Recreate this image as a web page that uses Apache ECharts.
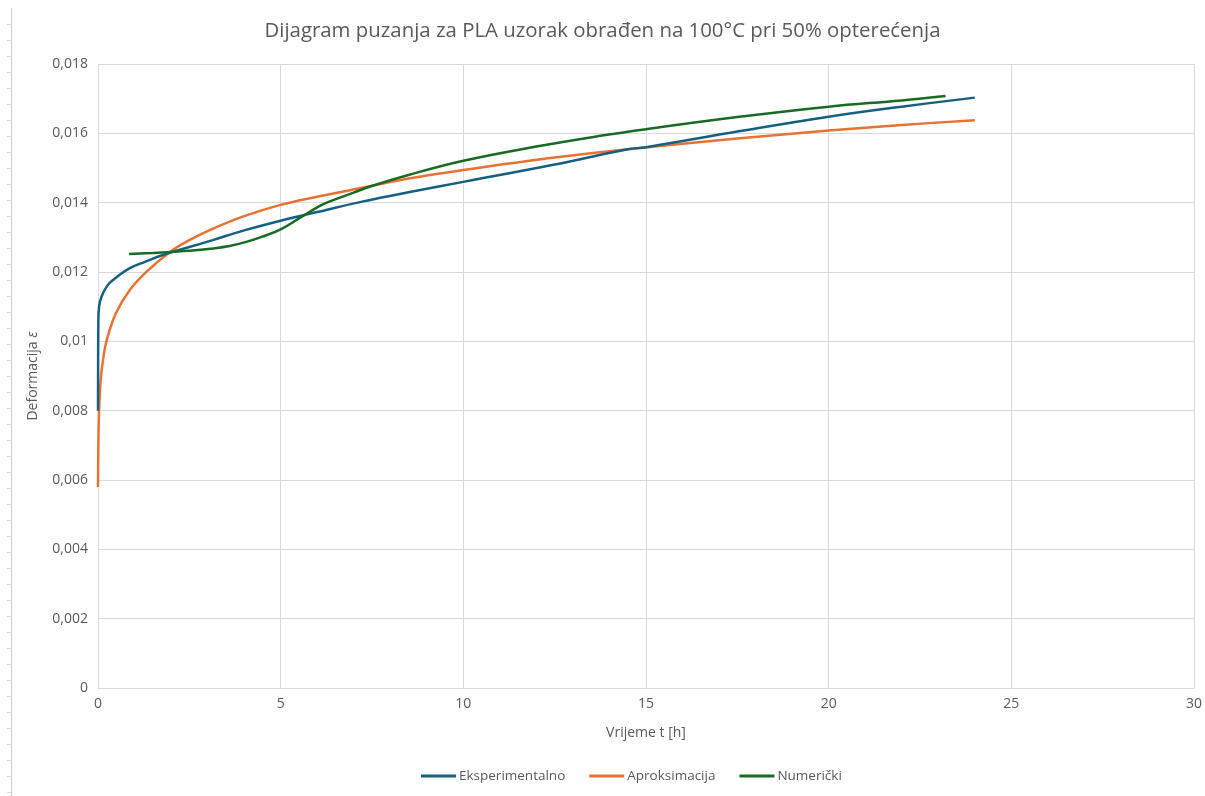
<!DOCTYPE html>
<html>
<head>
<meta charset="utf-8">
<script src="https://cdn.jsdelivr.net/npm/echarts@6/dist/echarts.min.js"></script>
<style>html,body{margin:0;padding:0;background:#fff;}#c{width:1205px;height:796px;}</style>
</head>
<body>
<div id="c"></div>
<script>
const titleText = 'Dijagram puzanja za PLA uzorak obrađen na 100°C pri 50% opterećenja';
const seriesNames = ['Eksperimentalno', 'Aproksimacija', 'Numerički'];
const xTitle = 'Vrijeme t [h]';
const yTitle = 'Deformacija';

const expT = [0, 0.01, 0.03, 0.1, 0.25, 0.41, 0.87, 1.3, 1.77, 2.5, 3.14, 4, 5, 6, 7.23, 8.5, 10, 12.5, 14.5, 15, 17.5, 20, 22, 24];
const expE = [0.0080, 0.0106, 0.0110, 0.0113, 0.0116, 0.01177, 0.01211, 0.0123, 0.01249, 0.01272, 0.01292, 0.0132, 0.01348, 0.01373, 0.01403, 0.0143, 0.0146, 0.0151, 0.01554, 0.0156, 0.01605, 0.01648, 0.01677, 0.01703];

const aproT = [0, 0.01, 0.027, 0.073, 0.15, 0.24, 0.49, 0.87, 1.33, 1.97, 2.5, 3.15, 4, 4.97, 6, 7.23, 8.5, 10, 12.5, 14.5, 17.5, 20, 22, 24];
const aproE = [0.0058, 0.0070, 0.00792, 0.00888, 0.00955, 0.01004, 0.01081, 0.01148, 0.01201, 0.01258, 0.01292, 0.01325, 0.01361, 0.01393, 0.01417, 0.01443, 0.0147, 0.01494, 0.0153, 0.01554, 0.01585, 0.01608, 0.01624, 0.01638];

const numT = [0.85, 1.5, 2, 2.5, 3.15, 3.6, 4.06, 4.5, 5, 5.6, 6.06, 6.33, 7, 7.43, 8.5, 10, 12, 13.7, 15, 17.5, 20, 22, 23.2];
const numE = [0.01252, 0.01255, 0.01258, 0.01261, 0.01268, 0.01275, 0.01287, 0.01302, 0.01323, 0.01361, 0.0139, 0.01403, 0.01429, 0.01446, 0.0148, 0.01521, 0.01562, 0.01592, 0.01612, 0.01647, 0.01677, 0.01695, 0.01708];

const colors = ['#156082', '#E97132', '#196B24'];
const zip = (a, b) => a.map((v, i) => [v, b[i]]);

const chart = echarts.init(document.getElementById('c'), null, {renderer: 'canvas'});
const FONT = '"Open Sans", "Liberation Sans", sans-serif';
const fmt = v => String(+v.toFixed(6)).replace('.', ',');

const ruler = [{type: 'line', shape: {x1: 11.5, y1: 8, x2: 11.5, y2: 796}, style: {stroke: '#d0d0d0', lineWidth: 1}}];
for (let y = 24; y < 796; y += 16) {
  ruler.push({type: 'line', shape: {x1: 7, y1: y + 0.5, x2: 11, y2: y + 0.5}, style: {stroke: '#d8d8d8', lineWidth: 1}});
}

chart.setOption({
  animation: false,
  backgroundColor: '#fff',
  color: colors,
  title: {
    text: titleText, left: 'center', top: 16,
    textStyle: {fontFamily: FONT, fontSize: 20.4, fontWeight: 'normal', color: '#595959'}
  },
  legend: {
    bottom: 8, left: 416, itemWidth: 35, itemHeight: 3, itemGap: 24,
    icon: 'rect',
    textStyle: {fontFamily: FONT, fontSize: 13.5, color: '#595959', padding: [0, 0, 0, -2]},
    data: seriesNames
  },
  grid: {left: 98, right: 8, top: 64, bottom: 108, containLabel: false},
  xAxis: {
    type: 'value', min: 0, max: 30, interval: 5,
    name: xTitle, nameLocation: 'middle', nameGap: 38,
    nameTextStyle: {fontFamily: FONT, fontSize: 14, color: '#595959'},
    axisLine: {show: true, lineStyle: {color: '#d9d9d9'}},
    axisTick: {show: false},
    axisLabel: {fontFamily: FONT, fontSize: 14, color: '#595959', margin: 9, formatter: fmt},
    splitLine: {show: true, lineStyle: {color: '#d9d9d9'}}
  },
  yAxis: {
    type: 'value', min: 0, max: 0.018, interval: 0.002,
    name: 'Deformacija {i|ε}', nameLocation: 'middle', nameGap: 58, nameRotate: 90,
    nameTextStyle: {fontFamily: FONT, fontSize: 14, color: '#595959',
      rich: {i: {fontStyle: 'italic', fontFamily: FONT, fontSize: 14, color: '#595959'}}},
    axisLine: {show: true, lineStyle: {color: '#d9d9d9'}},
    axisTick: {show: false},
    axisLabel: {fontFamily: FONT, fontSize: 14, color: '#595959', margin: 10, formatter: fmt},
    splitLine: {show: true, lineStyle: {color: '#d9d9d9'}}
  },
  graphic: ruler,
  series: [
    {name: seriesNames[0], type: 'line', data: zip(expT, expE), symbol: 'none', smooth: 0.4, lineStyle: {width: 2.5, color: colors[0]}, z: 3},
    {name: seriesNames[1], type: 'line', data: zip(aproT, aproE), symbol: 'none', smooth: 0.4, lineStyle: {width: 2.5, color: colors[1]}, z: 2},
    {name: seriesNames[2], type: 'line', data: zip(numT, numE), symbol: 'none', smooth: 0.4, lineStyle: {width: 2.5, color: colors[2]}, z: 4}
  ]
});
</script>
</body>
</html>
